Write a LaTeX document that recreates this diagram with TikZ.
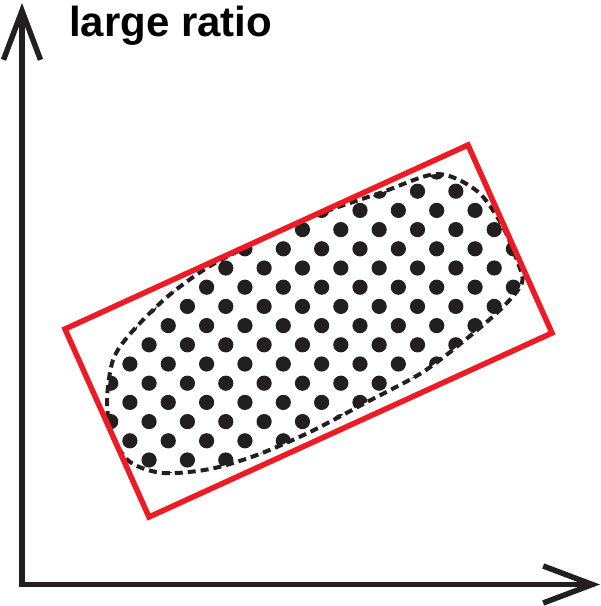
\documentclass[tikz,border=0pt]{standalone}
\usepackage{fontspec}
\setmainfont{Liberation Sans}
\usepackage{xcolor}
\usetikzlibrary{arrows.meta}
\definecolor{inkblack}{HTML}{231F20}
\definecolor{boxred}{HTML}{ED1C24}

\begin{document}
\begin{tikzpicture}[x=1pt,y=-1pt,
  axisline/.style={draw=inkblack,line width=5.5pt,line join=miter},
  axistip/.style={arrows={Straight Barb[length=49pt,width=37pt]-Straight Barb[length=49pt,width=37pt]}},
  boxline/.style={draw=boxred,line width=5.5pt,line join=miter},
  blobline/.style={draw=inkblack,line width=4pt,dash pattern=on 8pt off 5pt},
  dotfill/.style={fill=inkblack},
  titletext/.style={anchor=base west,inner sep=0pt,font=\fontsize{42}{42}\selectfont\bfseries}]
\useasboundingbox (0,0) rectangle (601,606);
\coordinate (ytip) at (22,3);
\coordinate (origin) at (22,584.5);
\coordinate (xtip) at (600,584.5);
\node[titletext] (title) at (69,36) {large ratio};
\path[save path=\blobpath] plot[smooth cycle] coordinates {
  (265,238) (313,216) (380,193) (437,174) (477,191) (502,225) (518,263)
  (522,283) (503,307) (470,336) (423,372) (367,402) (310,432) (257,455)
  (210,469) (163,473) (130,462) (112,435) (107,400) (113,360) (130,334)
  (167,297) (210,266)};
\begin{scope}
\clip[use path=\blobpath];
\foreach \j in {0,...,16}
  \foreach \i in {-8,...,5}
    \fill[dotfill] ({360+38.35*\i+19.17*mod(\j,2)},{172+19.2*\j}) circle[radius=7.6pt];
\end{scope}
\draw[blobline,use path=\blobpath];
\coordinate (boxw) at (65,329);
\coordinate (boxn) at (468,145);
\coordinate (boxe) at (552,333);
\coordinate (boxs) at (149,517);
\draw[boxline] (boxw) -- (boxn) -- (boxe) -- (boxs) -- cycle;
\draw[axisline,axistip] (ytip) -- (origin) -- (xtip);
\end{tikzpicture}
\end{document}
